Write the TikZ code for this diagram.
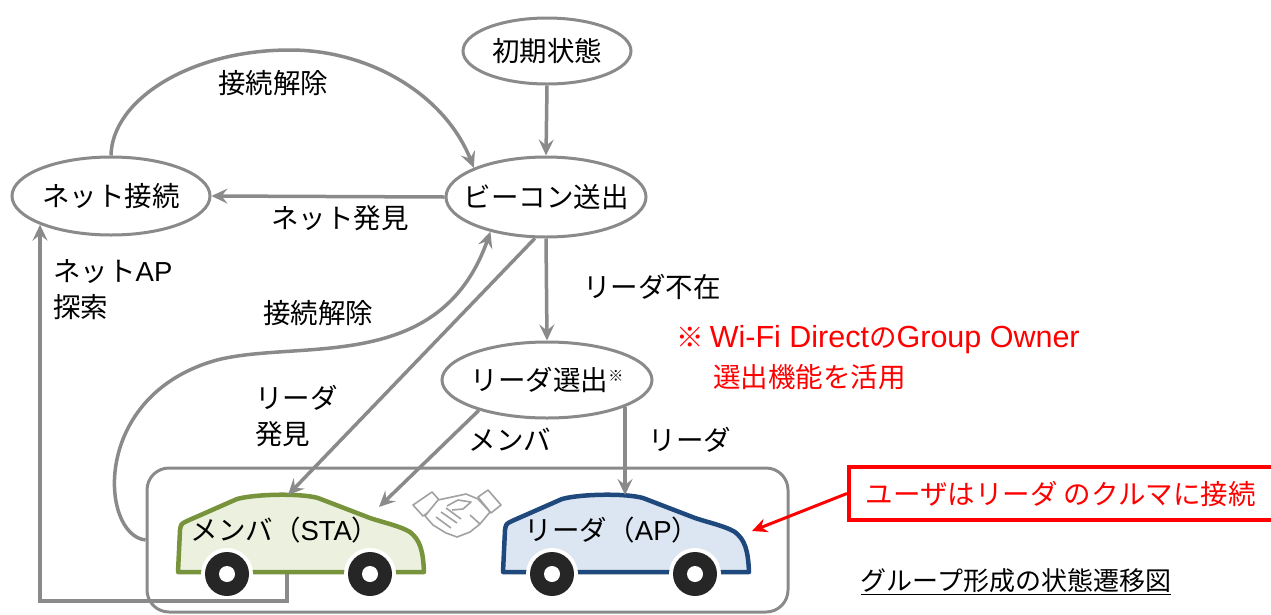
\documentclass[tikz,border=0pt]{standalone}
\usepackage{fontspec}
\setmainfont{Noto Sans CJK JP}
\newfontfamily\latinfont{Liberation Sans}
\usetikzlibrary{shapes.geometric,arrows.meta}
\definecolor{linegray}{HTML}{8A8A8A}
\definecolor{memberline}{HTML}{77933C}
\definecolor{memberfill}{HTML}{EBF1DE}
\definecolor{leaderline}{HTML}{1F497D}
\definecolor{leaderfill}{HTML}{DCE6F2}
\definecolor{tyre}{HTML}{262626}
\definecolor{notered}{HTML}{FF0000}
\newcommand\lblsize{\fontsize{27.5}{36}\selectfont}
\newcommand\capsize{\fontsize{26}{30}\selectfont}
\newcommand\lat[1]{{\latinfont #1}}
\newcommand\latbig[1]{{\latinfont\fontsize{30.5}{36}\selectfont #1}}

\begin{document}
\begin{tikzpicture}[x=1pt,y=-1pt,
  state/.style={ellipse, draw=linegray, line width=3pt, fill=white, inner sep=0pt, font=\lblsize},
  arr/.style={draw=linegray, line width=3.5pt, -{Stealth[length=16pt,width=15pt,inset=6pt]}},
  lbl/.style={font=\lblsize, inner sep=0pt},
  grpbox/.style={draw=linegray, line width=3pt, rounded corners=22pt},
  carbody/.style={line width=4.5pt, line join=round},
  handline/.style={draw=linegray!80, line width=1.6pt, fill=white, line join=round},
]
\useasboundingbox (0,0) rectangle (1271,614);

% group of cars
\node[grpbox, minimum width=641pt, minimum height=144pt] (grp) at (467.5,540) {};

% car outlines: member (green) and leader (blue)
\foreach \dx/\ln/\fl in {0/memberline/memberfill, 325/leaderline/leaderfill}{
  \begin{scope}[xshift=\dx pt]
    \draw[carbody, draw=\ln, fill=\fl]
      (178,572) -- (180,530) .. controls (181,524) .. (187,521)
      -- (237,499) .. controls (255,494) and (300,493) .. (318,498)
      -- (370,518) .. controls (385,523) and (400,526) .. (410,532)
      .. controls (420,540) and (423,550) .. (424,572) -- cycle;
    \foreach \wx in {227,370}{
      \fill[white] (\wx,574) circle[radius=26pt];
      \fill[tyre] (\wx,574) circle[radius=22pt];
      \fill[white] (\wx,574) circle[radius=8pt];
    }
  \end{scope}
}
\node[lbl] (mcar) at (285,530) {メンバ（\lat{STA}）};
\node[lbl] (lcar) at (612,530) {リーダ（\lat{AP}）};
\coordinate (mroof) at (288,495);
\coordinate (mfront) at (379,507);
\coordinate (mbot) at (287,574);
\coordinate (lroof) at (623,495);
\coordinate (lfront) at (752,531);

% handshake icon
\begin{scope}
  \draw[handline] (413,505) -- (432,492) -- (442,503) -- (423,516) -- cycle;
  \draw[handline] (478,497) -- (488,490) -- (501,505) -- (491,513) -- cycle;
  \draw[handline] (438,500) -- (452,497) -- (466,494) -- (478,499) -- (490,512)
    -- (480,524) -- (470,532) -- (457,537) -- (446,533) -- (433,525) -- (425,516) -- cycle;
  \draw[handline] (447,506) -- (458,500) -- (471,502) -- (463,509) -- (452,510);
  \draw[handline, fill=none] (436,517) -- (451,528) (441,512) -- (457,523) (446,508) -- (461,519) (470,515) -- (480,524);
\end{scope}

% states (text boxed at zero width so the ellipse keeps its set size)
\node[state, minimum width=168pt, minimum height=66pt] (init) at (547,51) {\makebox[0pt]{初期状態}};
\node[state, minimum width=200pt, minimum height=80pt] (beacon) at (546,197) {\makebox[0pt]{ビーコン送出}};
\node[state, minimum width=198pt, minimum height=78pt] (net) at (111,196) {\makebox[0pt]{ネット接続}};
\node[state, minimum width=210pt, minimum height=76pt] (elect) at (547,380)
  {\makebox[0pt]{リーダ選出\raisebox{9pt}{\fontsize{15}{15}\selectfont ※}}};

% transitions
\draw[arr] (init.south) -- (beacon.north);
\draw[arr] (beacon.west) -- (net.east);
\draw[arr] (net.north) .. controls (112,100) and (190,50) .. (290,50)
  .. controls (370,50) and (445,95) .. (beacon.158);
\draw[arr] (beacon.south) -- (elect.north);
\draw[arr] (beacon.255) -- (mroof);
\draw[arr] (elect.204) -- (mfront);
\draw[arr] (elect.341) -- (elect.341 |- lroof);
\draw[arr] (grp.west) .. controls (100,535) and (90,395) .. (217,360)
  .. controls (300,339) and (440,375) .. (beacon.212);
\draw[arr] (mbot) -- (mbot |- 0,601) -| (net.202);

% transition labels
\node[lbl] (tdisc1) at (273,83) {接続解除};
\node[lbl] (tnet) at (340,218) {ネット発見};
\node[lbl, anchor=west, align=left] (tscan) at (53,290) {ネット\lat{AP}\\探索};
\node[lbl] (tdisc2) at (318,313) {接続解除};
\node[lbl, anchor=west, align=left] (tfound) at (255,416) {リーダ\\発見};
\node[lbl] (tnone) at (652,287) {リーダ不在};
\node[lbl] (tmem) at (510,440) {メンバ};
\node[lbl] (tlead) at (690,440) {リーダ};

% notes
\node[lbl, anchor=west, text=notered] (note1) at (676,340) {※ \latbig{Wi-Fi Direct}の\latbig{Group Owner}};
\node[lbl, anchor=west, text=notered] (note2) at (713,377) {選出機能を活用};
\node[draw=notered, line width=3.5pt, minimum width=424pt, minimum height=53pt,
  anchor=west, font=\lblsize, text=notered, inner sep=0pt] (user) at (847,493.5)
  {ユーザはリーダ のクルマに接続};
\draw[line width=3pt, notered, -{Stealth[length=15pt,width=14pt]}] (user.west) -- (lfront);

% caption
\node[font=\capsize, inner sep=0pt] (cap) at (1016,582) {\underline{グループ形成の状態遷移図}};
\end{tikzpicture}
\end{document}
